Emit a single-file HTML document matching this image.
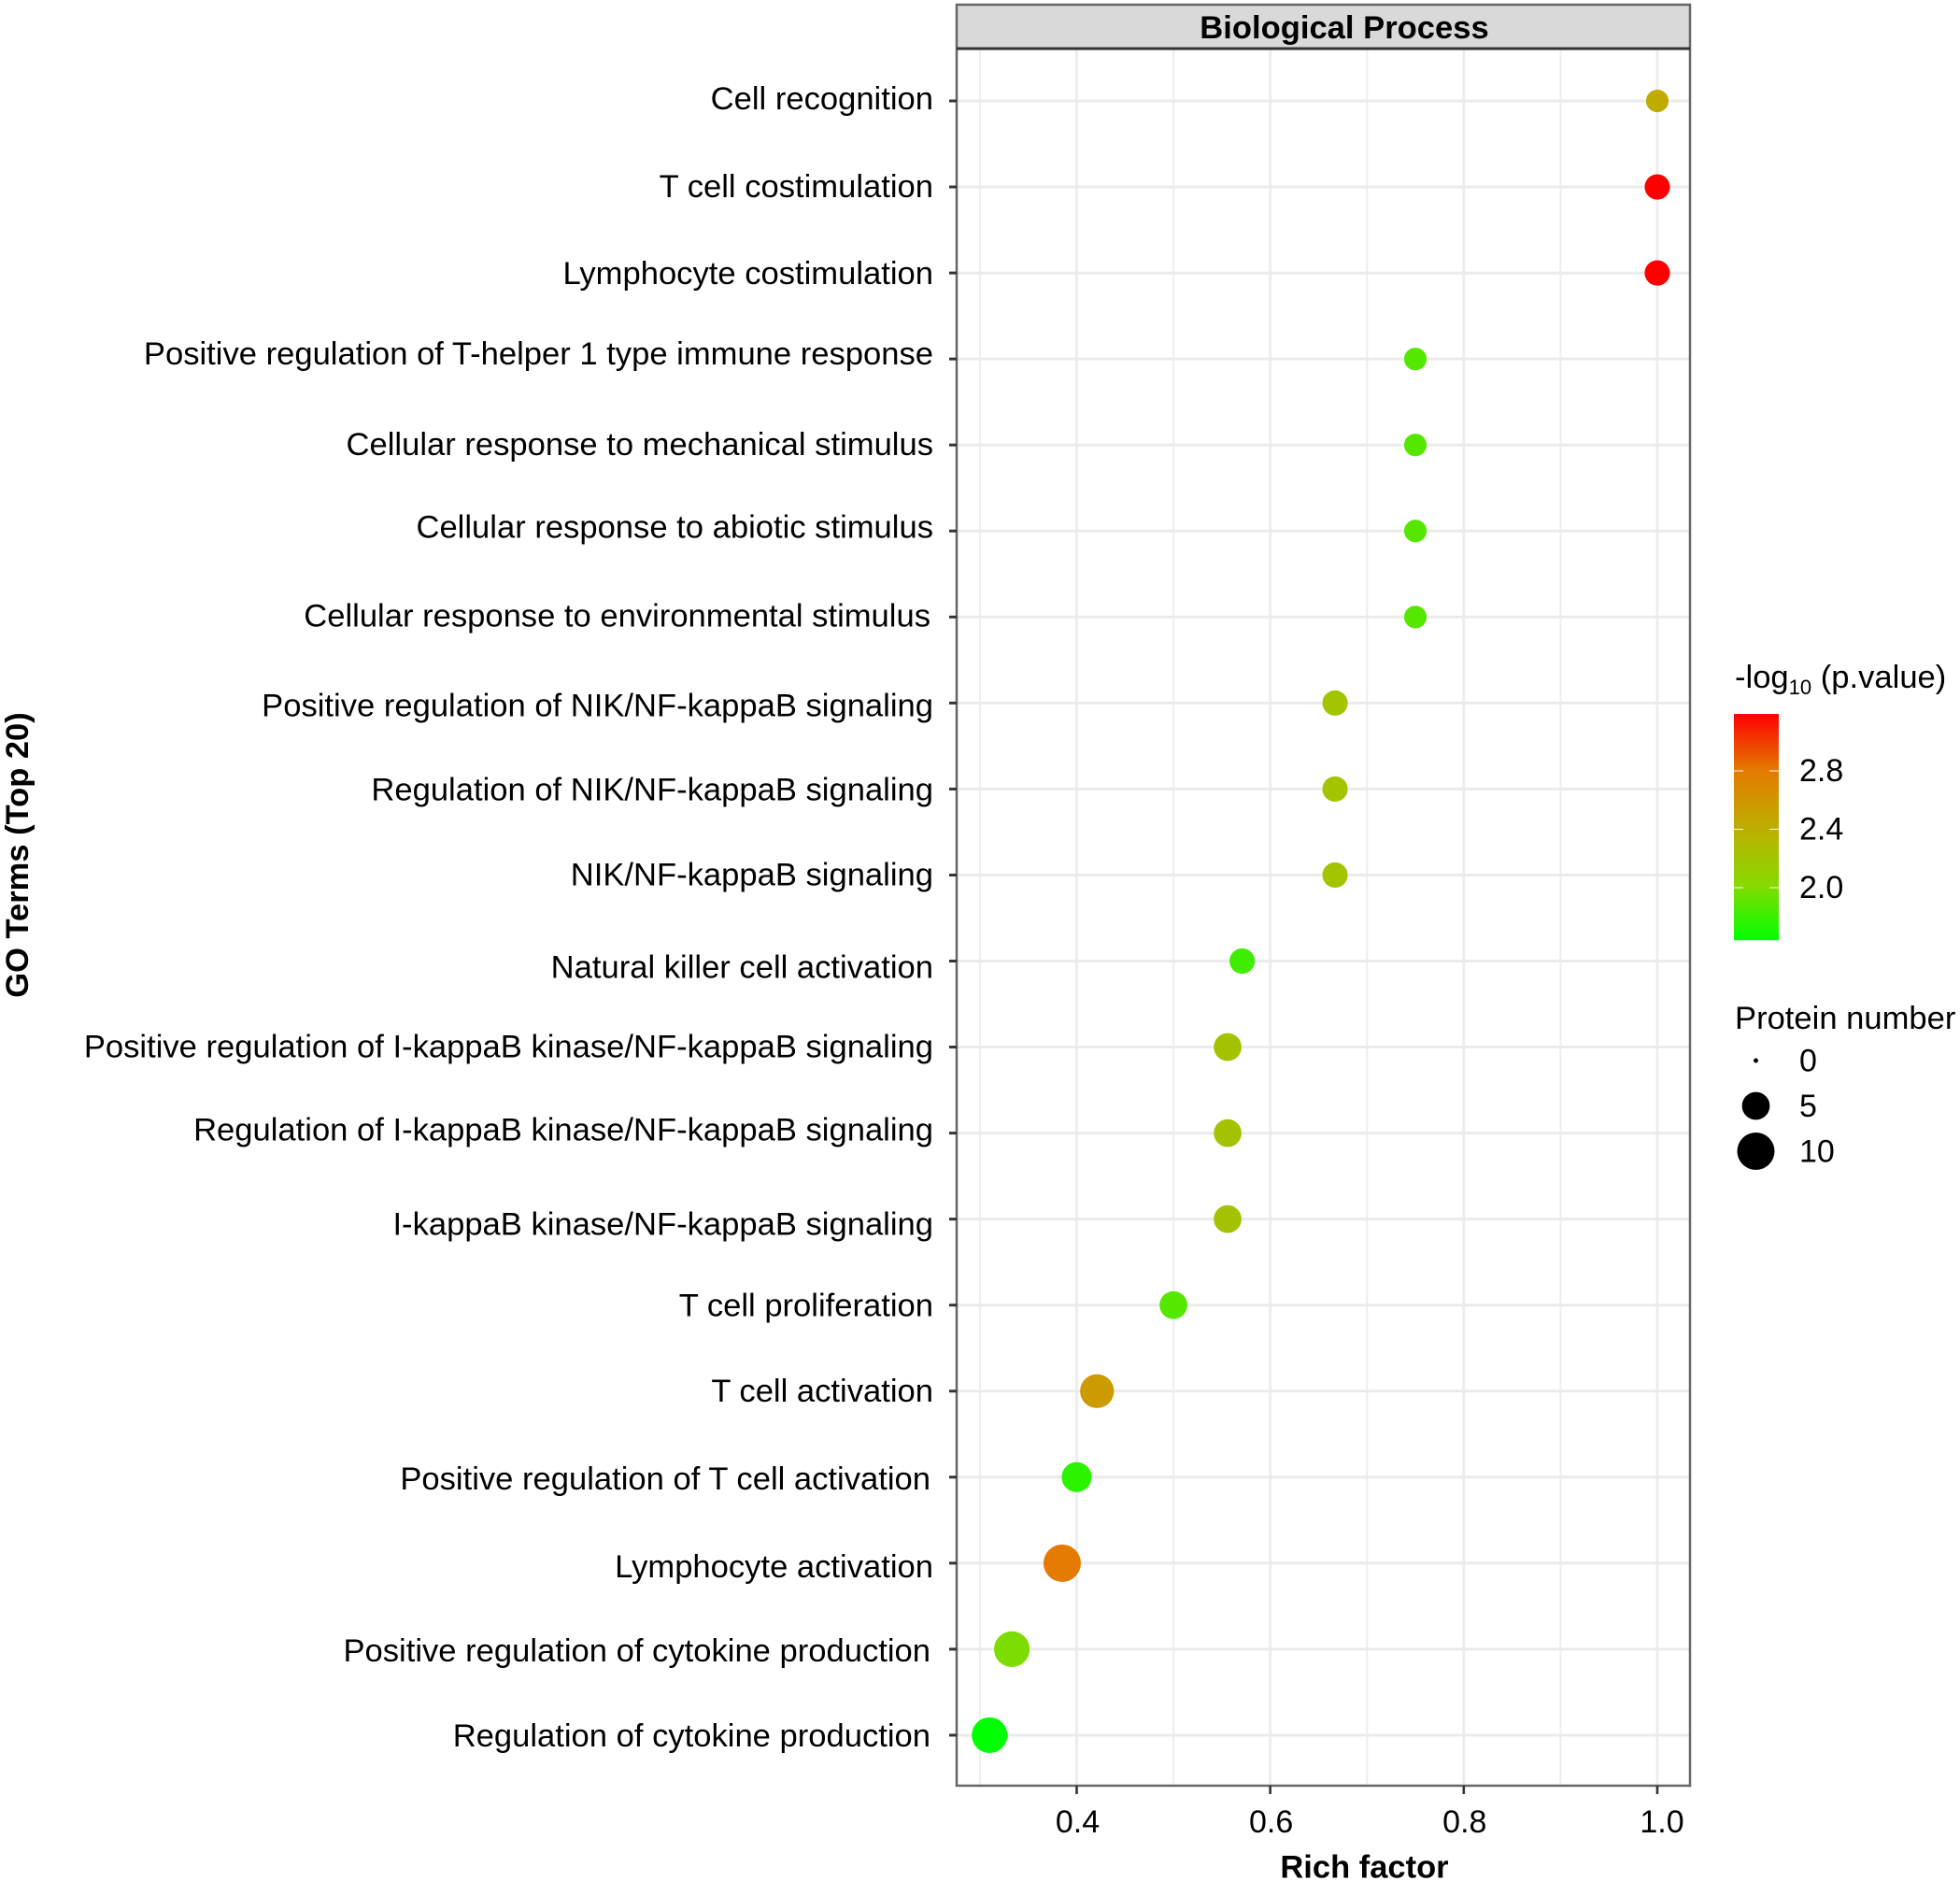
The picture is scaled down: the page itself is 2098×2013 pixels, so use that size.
<!DOCTYPE html>
<html lang="en">
<head>
<meta charset="utf-8">
<title>GO enrichment: Biological Process</title>
<style>
html,body{margin:0;padding:0;background:#fff;width:2098px;height:2013px;overflow:hidden}
svg{display:block}
text{font-family:"Liberation Sans",Arial,sans-serif;fill:#000}
</style>
</head>
<body>
<svg id="chart" xmlns="http://www.w3.org/2000/svg" width="2098" height="2013" viewBox="0 0 2098 2013">
  <defs>
    <linearGradient id="colorbar-gradient" x1="0" y1="1" x2="0" y2="0"></linearGradient>
  </defs>
  <rect x="0" y="0" width="2098" height="2013" fill="#fff"/>
  <g id="grid"></g>
  <g id="points"></g>
  <rect x="1024" y="5" width="785" height="47" fill="#d9d9d9"/>
  <rect x="1024" y="5" width="785" height="1906" fill="none" stroke="#666" stroke-width="2.5"/>
  <line x1="1024" x2="1809" y1="52" y2="52" stroke="#333" stroke-width="3"/>
  <text x="1439" y="41" font-size="34.6" font-weight="bold" text-anchor="middle">Biological Process</text>
  <g id="y-axis"></g>
  <g id="x-axis"></g>
  <text x="1460.5" y="2009.5" font-size="34.5" font-weight="bold" text-anchor="middle">Rich factor</text>
  <text transform="translate(30,915) rotate(-90)" font-size="34.5" font-weight="bold" text-anchor="middle">GO Terms (Top 20)</text>
  <g id="color-legend">
    <text x="1857" y="736" font-size="34.6">-log<tspan font-size="22" dy="7">10</tspan><tspan dy="-7"> (p.value)</tspan></text>
  </g>
  <g id="size-legend">
    <text x="1857" y="1101" font-size="34.6">Protein number</text>
  </g>
</svg>
<script>
const categories = [
  "Cell recognition",
  "T cell costimulation",
  "Lymphocyte costimulation",
  "Positive regulation of T-helper 1 type immune response",
  "Cellular response to mechanical stimulus",
  "Cellular response to abiotic stimulus",
  "Cellular response to environmental stimulus",
  "Positive regulation of NIK/NF-kappaB signaling",
  "Regulation of NIK/NF-kappaB signaling",
  "NIK/NF-kappaB signaling",
  "Natural killer cell activation",
  "Positive regulation of I-kappaB kinase/NF-kappaB signaling",
  "Regulation of I-kappaB kinase/NF-kappaB signaling",
  "I-kappaB kinase/NF-kappaB signaling",
  "T cell proliferation",
  "T cell activation",
  "Positive regulation of T cell activation",
  "Lymphocyte activation",
  "Positive regulation of cytokine production",
  "Regulation of cytokine production"
];
const richFactor = [1, 1, 1, 0.75, 0.75, 0.75, 0.75, 0.667, 0.667, 0.667, 0.571, 0.556, 0.556, 0.556, 0.5, 0.421, 0.4, 0.385, 0.333, 0.31];
const negLogP = [2.42, 3.19, 3.19, 1.88, 1.88, 1.88, 1.88, 2.2, 2.2, 2.2, 1.82, 2.23, 2.23, 2.23, 1.88, 2.55, 1.76, 2.8, 1.99, 1.64];
const proteinCount = [3, 4, 4, 3, 3, 3, 3, 4, 4, 4, 4, 5, 5, 5, 5, 8, 6, 10, 9, 9];
const xTicks = [0.4, 0.6, 0.8, 1.0];
const xMinorTicks = [0.3, 0.5, 0.7, 0.9];
const colorTicks = [2.0, 2.4, 2.8];
const sizeTicks = [0, 5, 10];

const NS = "http://www.w3.org/2000/svg";
const labelNudgeX = [0,0,0,0,0,0,-3,0,0,0,0,0,0,0,0,0,-3,0,-3,-3];
const labelBaselineNudge = [9,11,12,6,11,7,10,14,12,11,18,11,8,17,12,11,13,15,13,12];

function xScale(v) { return 1152.5 + (v - 0.4) * 1035.8; }
function yScale(i) { return 108 + i * 92.05; }
function sizeScale(n) { return 2.5 + Math.sqrt(n / 10) * 17.5; }
function colorBarY(v) { return 950 - (v - 2.0) * 156.25; }

const colorMin = 1.64;
const colorMax = 3.19;
const colorStops = [[0,[0,255,0]],[0.25,[138,217,0]],[0.5,[190,173,0]],[0.75,[228,122,0]],[1,[255,0,0]]];
function colorScale(v) {
  const t = Math.max(0, Math.min(1, (v - colorMin) / (colorMax - colorMin)));
  for (let k = 1; k < colorStops.length; k++) {
    if (t <= colorStops[k][0]) {
      const a = colorStops[k - 1], b = colorStops[k];
      const f = (t - a[0]) / (b[0] - a[0]);
      const c = a[1].map((x, j) => Math.round(x + (b[1][j] - x) * f));
      return "rgb(" + c.join(",") + ")";
    }
  }
  return "rgb(255,0,0)";
}

function make(parent, tag, attrs, text) {
  const el = document.createElementNS(NS, tag);
  for (const key in attrs) el.setAttribute(key, attrs[key]);
  if (text !== undefined) el.textContent = text;
  parent.appendChild(el);
  return el;
}

const grid = document.getElementById("grid");
const points = document.getElementById("points");
const yAxis = document.getElementById("y-axis");
const xAxis = document.getElementById("x-axis");
const colorLegend = document.getElementById("color-legend");
const sizeLegend = document.getElementById("size-legend");

xMinorTicks.forEach(function (v) {
  const el = make(grid, "line", {x1: xScale(v), x2: xScale(v), y1: 52, y2: 1911, stroke: "#ededed", "stroke-width": 2});
  
  
});
xTicks.forEach(function (v) {
  const el = make(grid, "line", {x1: xScale(v), x2: xScale(v), y1: 52, y2: 1911, stroke: "#ebebeb", "stroke-width": 2.6});
  
  

  const tick = make(xAxis, "line", {x1: xScale(v), x2: xScale(v), y1: 1911, y2: 1920, stroke: "#333", "stroke-width": 2.6});
  
  

  const label = make(xAxis, "text", {x: xScale(v) + (v === 1 ? 5 : 1), y: 1961, "font-size": 34, "text-anchor": "middle"}, v.toFixed(1));
  
  
});

categories.forEach(function (name, i) {
  const line = make(grid, "line", {x1: 1024, x2: 1809, y1: yScale(i), y2: yScale(i), stroke: "#ebebeb", "stroke-width": 3});
  
  

  const tick = make(yAxis, "line", {x1: 1016, x2: 1024, y1: yScale(i), y2: yScale(i), stroke: "#333", "stroke-width": 3});
  
  

  const label = make(yAxis, "text", {
    x: 999 + labelNudgeX[i],
    y: yScale(i) + labelBaselineNudge[i],
    "font-size": 34.6,
    "text-anchor": "end"
  }, name);
  
  

  const dot = make(points, "circle", {cx: xScale(richFactor[i]), cy: yScale(i), r: sizeScale(proteinCount[i]), fill: colorScale(negLogP[i])});
  
  
});

const gradient = document.getElementById("colorbar-gradient");
for (let s = 0; s <= 20; s++) {
  make(gradient, "stop", {offset: (s / 20), "stop-color": colorScale(colorMin + (colorMax - colorMin) * s / 20)});
}
const colorBar = make(colorLegend, "rect", {x: 1856, y: colorBarY(colorMax), width: 48, height: colorBarY(colorMin) - colorBarY(colorMax), fill: "url(#colorbar-gradient)"});



colorTicks.forEach(function (v) {
  const y = colorBarY(v);
  const left = make(colorLegend, "line", {x1: 1856, x2: 1866, y1: y, y2: y, stroke: "#fff", "stroke-width": 1.2, "stroke-opacity": 0.8});
  
  

  const right = make(colorLegend, "line", {x1: 1894, x2: 1904, y1: y, y2: y, stroke: "#fff", "stroke-width": 1.2, "stroke-opacity": 0.8});
  
  

  const label = make(colorLegend, "text", {x: 1926, y: y + 11, "font-size": 34}, v.toFixed(1));
  
  
});

sizeTicks.forEach(function (n, i) {
  const y = 1135 + i * 48.5;
  const dot = make(sizeLegend, "circle", {cx: 1879.5, cy: y, r: sizeScale(n), fill: "#000"});
  
  

  const label = make(sizeLegend, "text", {x: 1926, y: y + 11.5, "font-size": 34}, String(n));
  
  
});
</script>
</body>
</html>
